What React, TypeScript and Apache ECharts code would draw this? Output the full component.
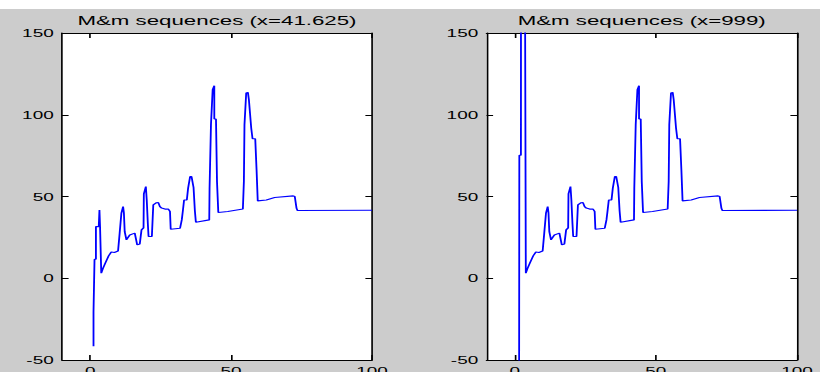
import React, { useEffect, useRef } from "react";
import * as echarts from "echarts";

// ---- data ----
const titles = ["M&m sequences (x=41.625)", "M&m sequences (x=999)"];
const xTickValues = [0, 50, 100];

// first few points of the left sequence (x = 41.625)
const leftHeadX = [1.18, 1.18, 1.54, 1.54, 2.04, 2.04, 3.04, 3.29, 3.5, 3.75];
const leftHeadY = [-41.6, -20.5, -20.5, 11.6, 11.6, 31.6, 31.6, 41.8, 31.6, 31.6];

// first few points of the right sequence (x = 999)
const rightHeadX = [1.0, 1.63, 2.2, 2.3];
const rightHeadY = [-999, 75.2, 75.2, 999];

// common part of both sequences
const tailX = [
  3.93, 4.54, 5.36, 6.54, 7.5, 8.57, 9.89, 10.46, 11.07, 11.68, 11.96, 12.25, 12.86, 14.04, 15.82,
  16.68, 17.6, 18.21, 18.93, 19.04, 19.75, 20.07, 20.46, 20.71, 21.89, 22.39, 23.39, 24.18, 24.75,
  25.36, 26.54, 27.75, 28.32, 28.57, 31.89, 32.5, 32.86, 33.32, 34.29, 34.75, 35.46, 35.96, 36.68,
  37.14, 37.5, 42.25, 42.36, 42.86, 43.46, 44.04, 44.04, 44.64, 45.0, 45.46, 48.82, 54.18, 54.54,
  54.75, 55.36, 55.96, 56.32, 57.14, 57.61, 58.57, 59.04, 59.46, 62.5, 65.46, 72.04, 72.6, 73.21,
  73.57, 100,
];
const tailY = [
  3.1, 6.1, 9.2, 13.7, 16.1, 15.8, 16.7, 27.6, 39.8, 43.8, 40.0, 28.5, 23.5, 26.5, 27.6, 20.4, 21.0,
  29.6, 30.8, 51.6, 56.1, 47.9, 33.3, 25.5, 25.5, 44.9, 46.1, 46.3, 43.8, 42.9, 42.3, 42.3, 40.8,
  30.0, 30.6, 35.7, 40.8, 47.9, 47.9, 55.1, 62.2, 62.2, 55.5, 41.4, 34.3, 35.7, 55.1, 93.9, 115.3,
  117.8, 97.4, 97.4, 59.2, 40.2, 40.8, 42.3, 59.2, 93.9, 113.3, 113.7, 109.2, 91.9, 85.3, 85.3, 66.3,
  47.3, 47.9, 49.4, 50.4, 50.0, 42.9, 41.4, 41.6,
];

// ---- layout ----
const S = 1.65; // the reference is horizontally stretched
const W = 820 / S;
const H = 372;
const FONT = "'Liberation Sans', Arial, Helvetica, sans-serif";

const pairs = (xs: number[], ys: number[]) => xs.map((x, i) => [x, ys[i]]);

const grids = [
  { left: 62 / S, width: 310 / S, top: 33, height: 327 },
  { left: 486.5 / S, width: 310.5 / S, top: 33, height: 327 },
];

function buildOption() {
  const xAxis: any[] = [];
  const yAxis: any[] = [];
  const lineStyle = { color: "#000", width: 1 };
  grids.forEach((_, g) => {
    xAxis.push({
      type: "value",
      gridIndex: g,
      min: -10,
      max: 100,
      position: "bottom",
      axisLine: { show: true, onZero: false, lineStyle },
      axisTick: { show: true, inside: true, length: 5, customValues: xTickValues, lineStyle },
      axisLabel: {
        show: true,
        customValues: xTickValues,
        margin: 5,
        color: "#000",
        fontSize: 11.5,
        fontFamily: FONT,
        alignMinLabel: "center",
        alignMaxLabel: "center",
        hideOverlap: false,
      },
      splitLine: { show: false },
    });
    xAxis.push({
      type: "value",
      gridIndex: g,
      min: -10,
      max: 100,
      position: "top",
      axisLine: { show: true, onZero: false, lineStyle },
      axisTick: { show: true, inside: true, length: 5, customValues: xTickValues, lineStyle },
      axisLabel: { show: false },
      splitLine: { show: false },
    });
    yAxis.push({
      type: "value",
      gridIndex: g,
      min: -50,
      max: 150,
      interval: 50,
      position: "left",
      axisLine: { show: true, onZero: false, lineStyle },
      axisTick: { show: true, inside: true, length: 4, lineStyle },
      axisLabel: {
        show: true,
        margin: 5,
        color: "#000",
        fontSize: 11.5,
        fontFamily: FONT,
        verticalAlignMinLabel: "middle",
        verticalAlignMaxLabel: "middle",
        hideOverlap: false,
      },
      splitLine: { show: false },
    });
    yAxis.push({
      type: "value",
      gridIndex: g,
      min: -50,
      max: 150,
      interval: 50,
      position: "right",
      axisLine: { show: true, onZero: false, lineStyle },
      axisTick: { show: true, inside: true, length: 4, lineStyle },
      axisLabel: { show: false },
      splitLine: { show: false },
    });
  });

  const leftData = pairs(leftHeadX.concat(tailX), leftHeadY.concat(tailY));
  const rightData = pairs(rightHeadX.concat(tailX), rightHeadY.concat(tailY));

  const series = [leftData, rightData].map((data, g) => ({
    type: "line",
    xAxisIndex: g * 2,
    yAxisIndex: g * 2,
    data,
    showSymbol: false,
    symbol: "none",
    clip: true,
    lineStyle: { color: "#0000ff", width: 1.1 },
    silent: true,
  }));

  const graphic: any[] = [
    {
      type: "rect",
      shape: { x: 0, y: 0, width: W, height: 9 },
      style: { fill: "#ffffff" },
      silent: true,
      z: 0,
    },
  ];
  grids.forEach((gr, g) => {
    graphic.push({
      type: "text",
      x: gr.left + gr.width / 2,
      y: 20,
      style: {
        text: titles[g],
        align: "center",
        verticalAlign: "middle",
        fill: "#000",
        fontSize: 13.5,
        fontFamily: FONT,
      },
      silent: true,
      z: 10,
    });
  });

  return {
    animation: false,
    backgroundColor: "#cccccc",
    grid: grids.map((gr) => ({
      ...gr,
      show: true,
      backgroundColor: "#ffffff",
      borderWidth: 0,
      containLabel: false,
      outerBoundsMode: "none",
    })),
    xAxis,
    yAxis,
    series,
    graphic,
  };
}

export default function App() {
  const ref = useRef<HTMLDivElement>(null);
  useEffect(() => {
    if (!ref.current) return;
    const chart = echarts.init(ref.current, null, { renderer: "svg" });
    chart.setOption(buildOption() as any);
    return () => chart.dispose();
  }, []);
  return (
    <div
      ref={ref}
      style={{
        position: "fixed",
        left: 0,
        top: 0,
        width: W,
        height: H,
        transform: `scaleX(${S})`,
        transformOrigin: "0 0",
      }}
    />
  );
}
